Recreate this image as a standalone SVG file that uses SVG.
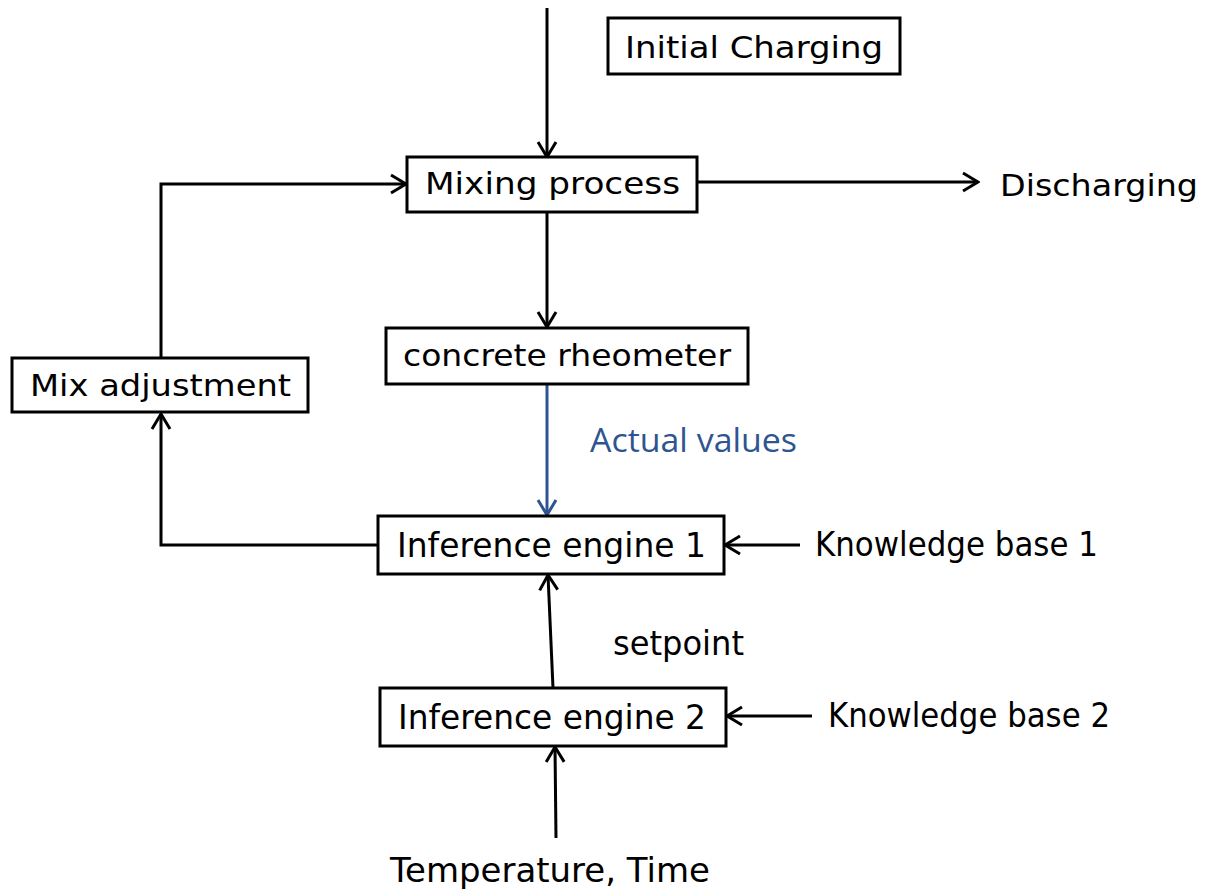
<svg xmlns="http://www.w3.org/2000/svg" width="1206" height="891" viewBox="0 0 1206 891">
<style>
.box{fill:#fff;stroke:#000;stroke-width:3}
.c{fill:none;stroke:#000;stroke-width:3}
.b{stroke:#2f5590}
.t{font-family:"DejaVu Sans",sans-serif;font-size:31px;fill:#000}
.n{font-family:"DejaVu Sans",sans-serif;font-size:33px;fill:#000}
</style>
<defs>
<marker id="ah" viewBox="0 0 22 22" refX="20" refY="11" markerWidth="22" markerHeight="22" markerUnits="userSpaceOnUse" orient="auto">
<path d="M5,2 L20,11 L5,20" fill="none" stroke="#000" stroke-width="3"/>
</marker>
<marker id="ahb" viewBox="0 0 22 22" refX="20" refY="11" markerWidth="22" markerHeight="22" markerUnits="userSpaceOnUse" orient="auto">
<path d="M5,2 L20,11 L5,20" fill="none" stroke="#2f5590" stroke-width="3"/>
</marker>
</defs>
<rect width="1206" height="891" fill="#fff"/>
<g id="connectors">
<line class="c" x1="547" y1="8" x2="547" y2="157" marker-end="url(#ah)"/>
<line class="c" x1="697" y1="182" x2="978" y2="182" marker-end="url(#ah)"/>
<line class="c" x1="547" y1="212" x2="547" y2="327" marker-end="url(#ah)"/>
<line class="c b" x1="547" y1="384" x2="547" y2="515" marker-end="url(#ahb)"/>
<polyline class="c" points="378,545 161,545 161,414" marker-end="url(#ah)"/>
<polyline class="c" points="161,358 161,184 406,184" marker-end="url(#ah)"/>
<line class="c" x1="800" y1="545" x2="725" y2="545" marker-end="url(#ah)"/>
<line class="c" x1="553" y1="688" x2="548" y2="575" marker-end="url(#ah)"/>
<line class="c" x1="812" y1="716" x2="727" y2="716" marker-end="url(#ah)"/>
<line class="c" x1="556" y1="838" x2="555" y2="747" marker-end="url(#ah)"/>
<text x="590" y="452" font-family="Open Sans, Liberation Sans, sans-serif" font-size="32" fill="#2f5590" textLength="207" lengthAdjust="spacingAndGlyphs">Actual values</text>
<text class="n" x="613" y="655" textLength="131" lengthAdjust="spacingAndGlyphs">setpoint</text>
</g>
<g id="initial-charging">
<rect class="box" x="608" y="18" width="292" height="56"/>
<text class="t" x="625" y="58" textLength="258" lengthAdjust="spacingAndGlyphs">Initial Charging</text>
</g>
<g id="mixing-process">
<rect class="box" x="407" y="157" width="290" height="55"/>
<text class="t" x="425" y="194" textLength="255" lengthAdjust="spacingAndGlyphs">Mixing process</text>
</g>
<g id="discharging">
<text class="t" x="1000" y="196" textLength="198" lengthAdjust="spacingAndGlyphs">Discharging</text>
</g>
<g id="concrete-rheometer">
<rect class="box" x="386" y="328" width="362" height="56"/>
<text class="t" x="403" y="366" textLength="328" lengthAdjust="spacingAndGlyphs">concrete rheometer</text>
</g>
<g id="mix-adjustment">
<rect class="box" x="12" y="358" width="296" height="54"/>
<text class="t" x="30" y="396" textLength="261" lengthAdjust="spacingAndGlyphs">Mix adjustment</text>
</g>
<g id="inference-engine-1">
<rect class="box" x="378" y="516" width="346" height="58"/>
<text class="n" x="397" y="557" textLength="309" lengthAdjust="spacingAndGlyphs">Inference engine 1</text>
</g>
<g id="knowledge-base-1">
<text class="n" x="815" y="556" textLength="283" lengthAdjust="spacingAndGlyphs">Knowledge base 1</text>
</g>
<g id="inference-engine-2">
<rect class="box" x="380" y="688" width="346" height="58"/>
<text class="n" x="398" y="729" textLength="308" lengthAdjust="spacingAndGlyphs">Inference engine 2</text>
</g>
<g id="knowledge-base-2">
<text class="n" x="828" y="727" textLength="282" lengthAdjust="spacingAndGlyphs">Knowledge base 2</text>
</g>
<g id="temperature-time">
<text class="n" x="390" y="882" textLength="320" lengthAdjust="spacingAndGlyphs">Temperature, Time</text>
</g>
</svg>
